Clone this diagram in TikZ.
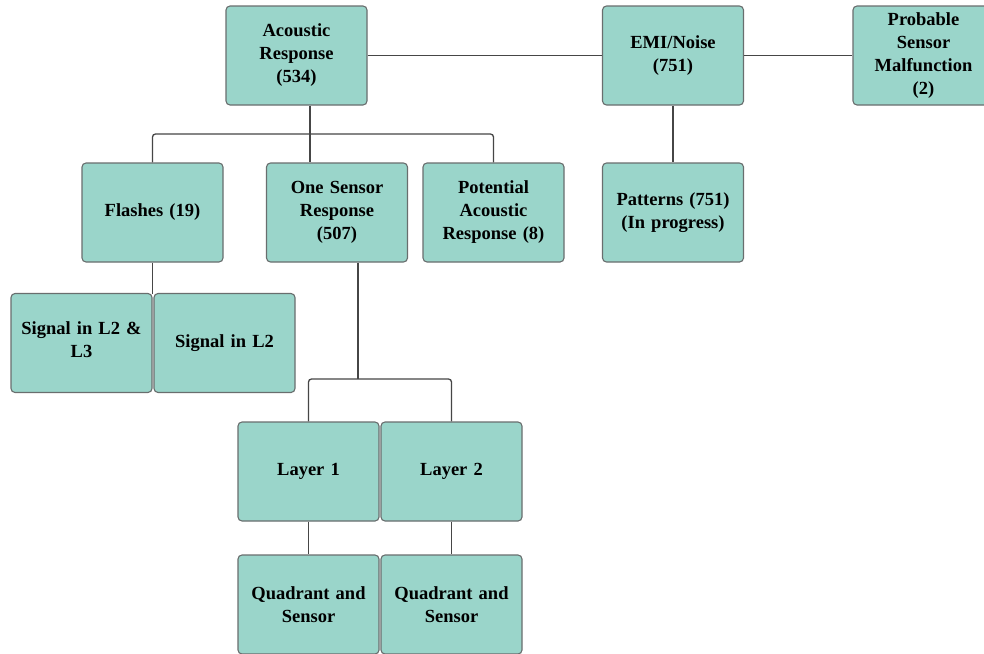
\documentclass[tikz,border=0pt]{standalone}
\usepackage{fontspec}
\setmainfont{Liberation Serif}
\definecolor{boxfill}{RGB}{154,213,202}
\definecolor{boxline}{RGB}{105,110,110}
\definecolor{linkcol}{RGB}{70,70,70}
\begin{document}
\begin{tikzpicture}[x=1pt,y=-1pt,
  box/.style={draw=boxline,fill=boxfill,line width=1.1pt,rounded corners=4pt,
    minimum width=141pt,minimum height=99pt,inner sep=2pt,text width=134pt,align=center,
    font=\fontsize{18.5}{23}\selectfont\bfseries},
  link/.style={draw=linkcol,line width=1.3pt,rounded corners=3pt}]
\clip (0,0) rectangle (984,653);
\fill[white] (0,0) rectangle (984,653);
\node[box] (A) at (296.5,55.5) {Acoustic\\Response\\(534)};
\node[box] (E) at (673,55.5) {EMI/Noise\\(751)};
\node[box] (M) at (923.5,55.5) {Probable\\Sensor\\Malfunction\\(2)};
\node[box] (F) at (152.5,212.5) {Flashes (19)};
\node[box] (S) at (337,212.5) {One Sensor\\Response\\(507)};
\node[box] (P) at (493.5,212.5) {Potential\\Acoustic\\Response (8)};
\node[box] (T) at (673,212.5) {Patterns (751)\\(In progress)};
\node[box] (L23) at (81.5,343) {Signal in L2 \&\\L3\strut\vphantom{Q}};
\node[box] (L2) at (224.5,343) {Signal in L2};
\node[box] (Y1) at (308.5,471.5) {Layer 1};
\node[box] (Y2) at (451.5,471.5) {Layer 2};
\node[box] (Q1) at (308.5,604.5) {Quadrant and\\Sensor};
\node[box] (Q2) at (451.5,604.5) {Quadrant and\\Sensor};
\coordinate (j1) at (310,134);
\coordinate (j2) at (358,379);
\coordinate (j3) at (152.5,294);
\draw[link] (A.east) -- (E.west);
\draw[link] (E.east) -- (M.west);
\draw[link] (A.south -| j1) -- (S.north -| j1);
\draw[link] (F.north) |- (j1) -| (P.north);
\draw[link] (F.south) -- (j3);
\draw[link] (S.south -| j2) -- (j2);
\draw[link] (Y1.north) |- (j2) -| (Y2.north);
\draw[link] (Y1.south) -- (Q1.north);
\draw[link] (Y2.south) -- (Q2.north);
\draw[link] (E.south) -- (T.north);
\end{tikzpicture}
\end{document}
